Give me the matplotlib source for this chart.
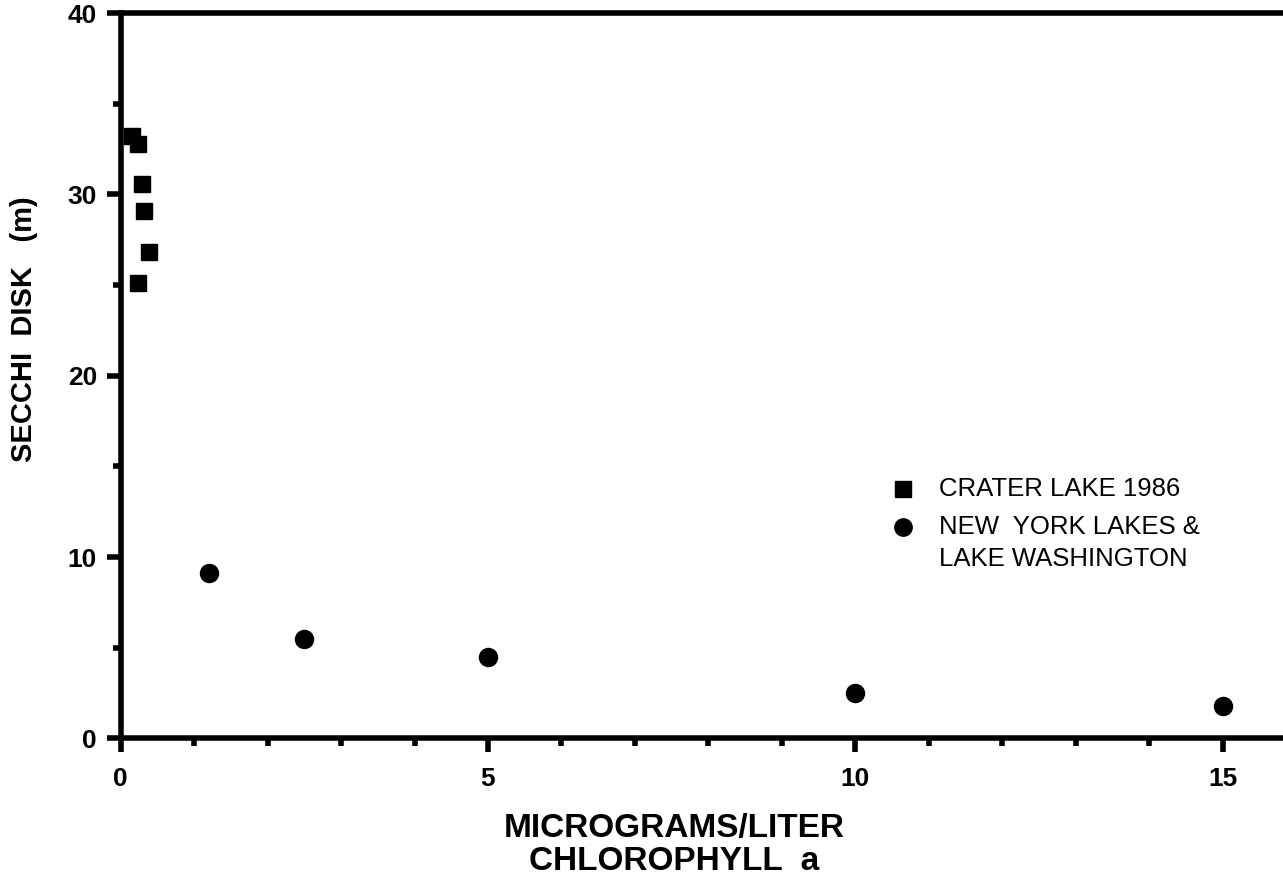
import matplotlib
matplotlib.use("Agg")
import matplotlib.pyplot as plt
from matplotlib.ticker import MultipleLocator

# Crater Lake 1986 (chlorophyll a in ug/L, Secchi depth in m)
crater_chl = [0.15, 0.24, 0.29, 0.32, 0.39, 0.24]
crater_secchi = [33.2, 32.8, 30.6, 29.1, 26.8, 25.1]

# New York lakes & Lake Washington
ny_chl = [1.2, 2.5, 5.0, 10.0, 15.0]
ny_secchi = [9.1, 5.5, 4.5, 2.5, 1.8]

x_ticks = [0, 5, 10, 15]
y_ticks = [0, 10, 20, 30, 40]

plt.rcParams["font.family"] = ["Liberation Sans", "DejaVu Sans"]

fig = plt.figure(figsize=(12.83, 8.81), dpi=100)
ax = fig.add_axes([0.094, 0.162, 0.906, 0.823])

ax.plot(crater_chl, crater_secchi, linestyle="none", marker="s",
        markersize=12, color="black", clip_on=False)
ax.plot(ny_chl, ny_secchi, linestyle="none", marker="o",
        markersize=13, color="black", clip_on=False)

ax.set_xlim(0, 15.82)
ax.set_ylim(0, 40)
ax.set_xticks(x_ticks)
ax.set_yticks(y_ticks)
ax.xaxis.set_minor_locator(MultipleLocator(1))
ax.yaxis.set_minor_locator(MultipleLocator(5))

for side in ("left", "bottom", "top"):
    ax.spines[side].set_linewidth(4)
ax.spines["right"].set_visible(False)

ax.tick_params(which="major", direction="out", length=10, width=4,
               labelsize=19)
ax.tick_params(which="minor", direction="out", length=5.5, width=4)
ax.tick_params(axis="x", which="major", pad=11)
ax.tick_params(axis="y", which="major", pad=7)
for lab in ax.get_xticklabels() + ax.get_yticklabels():
    lab.set_fontweight("bold")

ax.set_ylabel("SECCHI  DISK   (m)", fontsize=21, fontweight="bold")
ax.yaxis.set_label_coords(-0.071, 0.564)
ax.set_xlabel("MICROGRAMS/LITER\nCHLOROPHYLL  a", fontsize=24,
              fontweight="bold", linespacing=1.08)
ax.xaxis.set_label_coords(0.476, -0.103)

# Key
key_x = 0.673
text_x = 0.704
rows = [0.344, 0.291, 0.247]
ax.plot([key_x], [rows[0]], marker="s", markersize=11.5, color="black",
        transform=ax.transAxes, clip_on=False)
ax.plot([key_x], [rows[1]], marker="o", markersize=12.5, color="black",
        transform=ax.transAxes, clip_on=False)
for y, txt in zip(rows, ["CRATER LAKE 1986", "NEW  YORK LAKES &",
                         "LAKE WASHINGTON"]):
    ax.text(text_x, y, txt, transform=ax.transAxes,
            fontsize=18.5, va="center", ha="left")

fig.savefig("out.png", dpi=100)
